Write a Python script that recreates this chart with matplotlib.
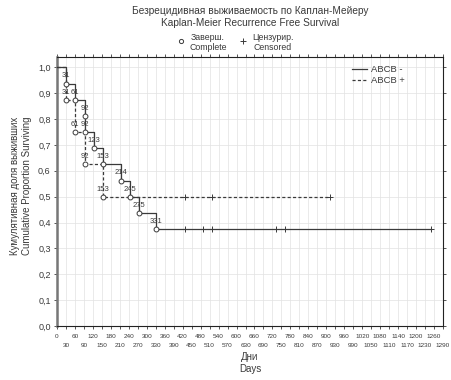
import matplotlib
matplotlib.use("Agg")
import matplotlib.pyplot as plt
from matplotlib.lines import Line2D
import numpy as np

plt.rcParams['font.family'] = ['Liberation Sans', 'DejaVu Sans']

# ABCB - (solid)
neg_event_times = [31, 61, 92, 92, 123, 153, 214, 245, 275, 331]
neg_event_surv = [0.9375, 0.875, 0.8125, 0.75, 0.6875, 0.625, 0.5625, 0.5, 0.4375, 0.375]
neg_cens_times = [429, 488, 517, 732, 763, 1251]

# ABCB + (dashed)
pos_event_times = [31, 61, 92, 153]
pos_event_surv = [0.875, 0.75, 0.625, 0.5]
pos_cens_times = [429, 517, 913]

x_ticks_upper = list(range(0, 1291, 60))
x_ticks_lower = list(range(30, 1291, 60))
y_ticks = [i / 10 for i in range(11)]

title_lines = ["Безрецидивная выживаемость по Каплан-Мейеру",
               "Kaplan-Meier Recurrence Free Survival"]
xlabel_lines = ["Дни", "Days"]
ylabel_lines = ["Кумулятивная доля выживших", "Cumulative Proportion Surviving"]
series_names = ["ABCB -", "ABCB +"]

col = "#3a3a3a"
fig = plt.figure(figsize=(4.52, 3.8), dpi=100)
ax = fig.add_axes([57/452, 1-326/380, (443-57)/452, (326-57)/380])


def step_xy(times, surv, last):
    xs = [0]
    ys = [1.0]
    cur = 1.0
    for t, s in zip(times, surv):
        xs += [t, t]
        ys += [cur, s]
        cur = s
    xs.append(last)
    ys.append(cur)
    return xs, ys


xs, ys = step_xy(neg_event_times, neg_event_surv, max(neg_cens_times))
ax.plot(xs, ys, color=col, lw=0.9, ls='-', zorder=3)
xs2, ys2 = step_xy(pos_event_times, pos_event_surv, max(pos_cens_times))
ax.plot(xs2, ys2, color=col, lw=0.9, ls=(0, (2.5, 1.8)), zorder=3)

# event markers
ax.plot(neg_event_times, neg_event_surv, 'o', ms=3.5, mfc='white', mec=col, mew=0.7, zorder=4)
ax.plot(pos_event_times, pos_event_surv, 'o', ms=3.5, mfc='white', mec=col, mew=0.7, zorder=4)
# censored markers
ax.plot(neg_cens_times, [neg_event_surv[-1]] * len(neg_cens_times), '+', ms=4.5, mec=col, mew=0.7, zorder=4)
ax.plot(pos_cens_times, [pos_event_surv[-1]] * len(pos_cens_times), '+', ms=4.5, mec=col, mew=0.7, zorder=4)

for t, s in list(zip(neg_event_times, neg_event_surv)) + list(zip(pos_event_times, pos_event_surv)):
    ax.annotate(str(t), (t, s), xytext=(0, 5.5), textcoords='offset points',
                ha='center', va='center', fontsize=5.5, color=col, zorder=5)

ax.set_xlim(0, 1290)
ax.set_ylim(0, 1.04)
ax.set_xticks(x_ticks_upper)
ax.set_xticklabels([str(v) for v in x_ticks_upper], fontsize=4.6, color=col)
ax.set_xticks(x_ticks_lower, minor=True)
ax.set_xticklabels([str(v) for v in x_ticks_lower], minor=True, fontsize=4.6, color=col)
ax.set_yticks(y_ticks)
ax.set_yticklabels([f"{v:.1f}".replace('.', ',') for v in y_ticks], fontsize=6.5, color=col)
ax.tick_params(axis='both', which='both', direction='out', length=2.5, width=0.6, colors=col,
               top=True, right=True)
ax.tick_params(axis='y', pad=2)
ax.tick_params(axis='x', which='major', pad=3)
ax.tick_params(axis='x', which='minor', pad=9.5)
ax.grid(True, which='both', color='#e2e2e2', lw=0.5)
ax.set_axisbelow(True)
for sp in ax.spines.values():
    sp.set_color('#222222')
    sp.set_linewidth(0.8)
ax.spines['left'].set_linewidth(1.8)
ax.spines['left'].set_color('#777777')

# title
fig.text(250/452, 1-11/380, title_lines[0], ha='center', va='center', fontsize=7.3, color=col)
fig.text(250/452, 1-23/380, title_lines[1], ha='center', va='center', fontsize=7.3, color=col)

# marker legend above plot
ax.plot([0.322], [1.058], 'o', ms=3, mfc='white', mec=col, mew=0.7,
        transform=ax.transAxes, clip_on=False)
fig.text(208/452, 1-38/380, "Заверш.", ha='center', va='center', fontsize=6.3, color=col)
fig.text(208/452, 1-47/380, "Complete", ha='center', va='center', fontsize=6.3, color=col)
ax.plot([0.482], [1.058], '+', ms=4, mec=col, mew=0.7,
        transform=ax.transAxes, clip_on=False)
fig.text(273/452, 1-38/380, "Цензурир.", ha='center', va='center', fontsize=6.3, color=col)
fig.text(273/452, 1-47/380, "Censored", ha='center', va='center', fontsize=6.3, color=col)

# series legend
handles = [Line2D([], [], color=col, lw=0.9, ls='-'),
           Line2D([], [], color=col, lw=0.9, ls=(0, (2.5, 1.8)))]
ax.legend(handles, series_names, loc='upper left', bbox_to_anchor=(0.755, 0.985),
          frameon=False, fontsize=6.8, handlelength=1.6, handletextpad=0.35,
          labelspacing=0.25, labelcolor=col, borderaxespad=0)

# axis labels
fig.text(250/452, 1-357/380, xlabel_lines[0], ha='center', va='center', fontsize=7, color=col)
fig.text(250/452, 1-369/380, xlabel_lines[1], ha='center', va='center', fontsize=7, color=col)
fig.text(15/452, 1-186/380, ylabel_lines[0], ha='center', va='center', fontsize=7, color=col, rotation=90)
fig.text(27/452, 1-186/380, ylabel_lines[1], ha='center', va='center', fontsize=7, color=col, rotation=90)

fig.savefig("out.png", dpi=100)
